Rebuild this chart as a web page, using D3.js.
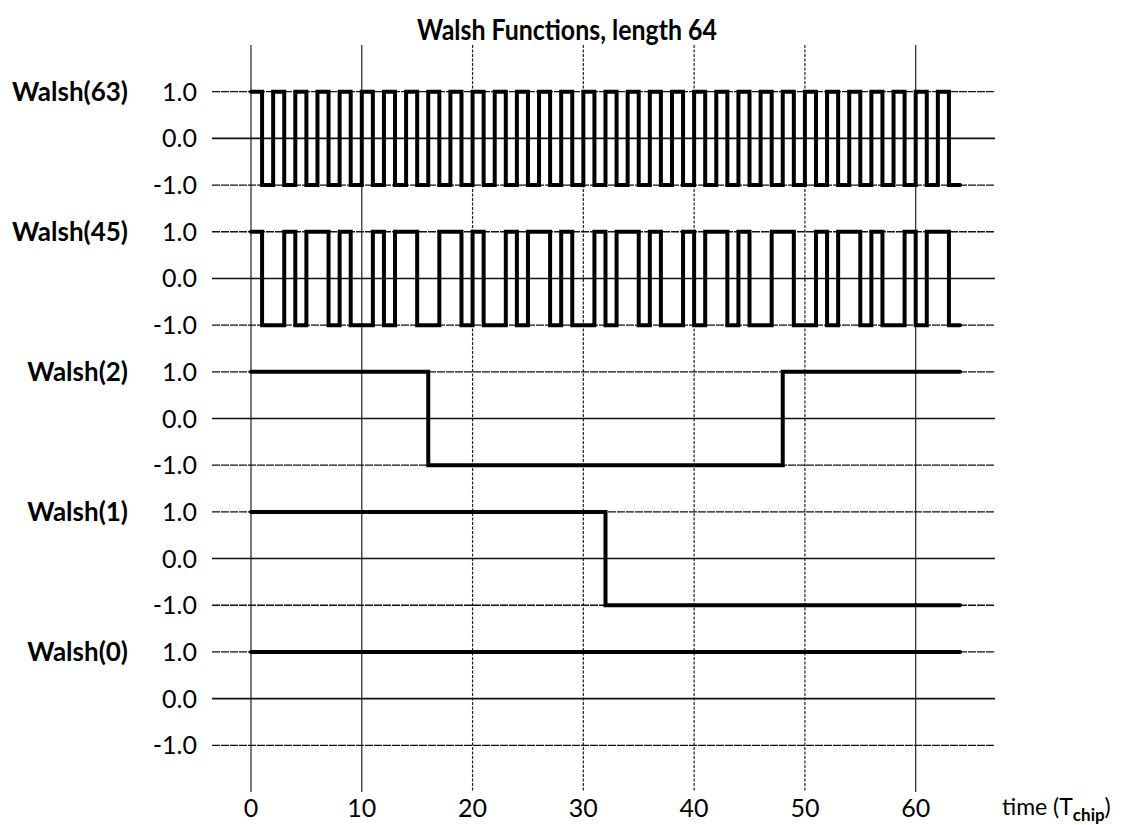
<!DOCTYPE html>
<html>
<head>
<meta charset="utf-8">
<script src="https://cdn.jsdelivr.net/npm/d3@7"></script>
<style>
  body { margin: 0; background: #fff; }
  svg { display: block; font-family: Lato, "Open Sans", sans-serif; }
</style>
</head>
<body>
<svg id="chart" width="1133" height="825"></svg>
<script>
// chip values, top band first
var walsh63 = [1,-1,1,-1,1,-1,1,-1, 1,-1,1,-1,1,-1,1,-1, 1,-1,1,-1,1,-1,1,-1, 1,-1,1,-1,1,-1,1,-1,
               1,-1,1,-1,1,-1,1,-1, 1,-1,1,-1,1,-1,1,-1, 1,-1,1,-1,1,-1,1,-1, 1,-1,1,-1,1,-1,1,-1];
var walsh45 = [1,-1,-1,1,-1,1,1,-1, 1,-1,-1,1,-1,1,1,-1, -1,1,1,-1,1,-1,-1,1, -1,1,1,-1,1,-1,-1,1,
               -1,1,1,-1,1,-1,-1,1, -1,1,1,-1,1,-1,-1,1, 1,-1,-1,1,-1,1,1,-1, 1,-1,-1,1,-1,1,1,-1];
var walsh2  = [1,1,1,1,1,1,1,1, 1,1,1,1,1,1,1,1, -1,-1,-1,-1,-1,-1,-1,-1, -1,-1,-1,-1,-1,-1,-1,-1,
               -1,-1,-1,-1,-1,-1,-1,-1, -1,-1,-1,-1,-1,-1,-1,-1, 1,1,1,1,1,1,1,1, 1,1,1,1,1,1,1,1];
var walsh1  = [1,1,1,1,1,1,1,1, 1,1,1,1,1,1,1,1, 1,1,1,1,1,1,1,1, 1,1,1,1,1,1,1,1,
               -1,-1,-1,-1,-1,-1,-1,-1, -1,-1,-1,-1,-1,-1,-1,-1, -1,-1,-1,-1,-1,-1,-1,-1, -1,-1,-1,-1,-1,-1,-1,-1];
var walsh0  = [1,1,1,1,1,1,1,1, 1,1,1,1,1,1,1,1, 1,1,1,1,1,1,1,1, 1,1,1,1,1,1,1,1,
               1,1,1,1,1,1,1,1, 1,1,1,1,1,1,1,1, 1,1,1,1,1,1,1,1, 1,1,1,1,1,1,1,1];

var seriesNames = ["Walsh(63)", "Walsh(45)", "Walsh(2)", "Walsh(1)", "Walsh(0)"];
var seriesData = [walsh63, walsh45, walsh2, walsh1, walsh0];
var levelTicks = [1, 0, -1];
var levelLabels = ["1.0", "0.0", "-1.0"];
var timeTicks = [0, 10, 20, 30, 40, 50, 60];

var svg = d3.select("#chart");

// each band is 3 units tall, Walsh(0) centred on 0
var x = d3.scaleLinear().domain([0, 64]).range([251, 960]);
var y = d3.scaleLinear().domain([-2, 14]).range([792, 45]);
var gridLeft = 212, gridRight = 995;

function bandOffset(i) { return (seriesNames.length - 1 - i) * 3; }

// vertical grid at time ticks
svg.append("g").selectAll("line")
    .data(timeTicks)
    .enter().append("line")
    .attr("x1", function(d) { return x(d); })
    .attr("x2", function(d) { return x(d); })
    .attr("y1", y(14))
    .attr("y2", y(-2))
    .attr("stroke", "#222")
    .attr("stroke-width", 1.2)
    .attr("stroke-dasharray", function(d) { return (d == 0 || d == 10 || d == 60) ? null : "3,1.5"; });

// horizontal grid, tick labels and series names
seriesNames.forEach(function(name, i) {
    var g = svg.append("g");
    levelTicks.forEach(function(v, j) {
        var yy = y(v + bandOffset(i));
        g.append("line")
            .attr("x1", gridLeft)
            .attr("x2", gridRight)
            .attr("y1", yy)
            .attr("y2", yy)
            .attr("stroke", "#111")
            .attr("stroke-width", v == 0 ? 1.6 : 1.3)
            .attr("stroke-dasharray", v == 0 ? null : "8,1");
        g.append("text")
            .attr("x", 197)
            .attr("y", yy)
            .attr("dy", "0.36em")
            .attr("text-anchor", "end")
            .style("font-size", "25px")
            .text(levelLabels[j]);
    });
    g.append("text")
        .attr("x", 128)
        .attr("y", y(1 + bandOffset(i)))
        .attr("dy", "0.36em")
        .attr("text-anchor", "end")
        .style("font-size", "26px")
        .style("font-weight", "bold")
        .text(name);
});

// waveforms as step lines
var line = d3.line()
    .x(function(d) { return x(d.t); })
    .y(function(d) { return y(d.v); })
    .curve(d3.curveStepAfter);

seriesData.forEach(function(chips, i) {
    var pts = chips.map(function(v, t) { return {t: t, v: v + bandOffset(i)}; });
    pts.push({t: chips.length, v: chips[chips.length - 1] + bandOffset(i)});
    svg.append("path")
        .datum(pts)
        .attr("d", line)
        .attr("fill", "none")
        .attr("stroke", "#000")
        .attr("stroke-width", 4)
        .attr("stroke-linejoin", "miter")
        .attr("stroke-linecap", "round");
});

// x tick labels
svg.append("g").selectAll("text")
    .data(timeTicks)
    .enter().append("text")
    .attr("x", function(d) { return x(d); })
    .attr("y", 817)
    .attr("text-anchor", "middle")
    .style("font-size", "25px")
    .text(function(d) { return d; });

var xl = svg.append("text")
    .attr("x", 1002)
    .attr("y", 815)
    .style("font-size", "23px");
xl.append("tspan").text("time (T");
xl.append("tspan").attr("dy", 6).style("font-size", "17px").style("font-weight", "bold").text("chip");
xl.append("tspan").attr("dy", -6).text(")");

// title
svg.append("text")
    .attr("x", 567)
    .attr("y", 40)
    .attr("text-anchor", "middle")
    .attr("textLength", 300)
    .attr("lengthAdjust", "spacingAndGlyphs")
    .style("font-size", "28px")
    .style("font-weight", "bold")
    .text("Walsh Functions, length 64");
</script>
</body>
</html>
